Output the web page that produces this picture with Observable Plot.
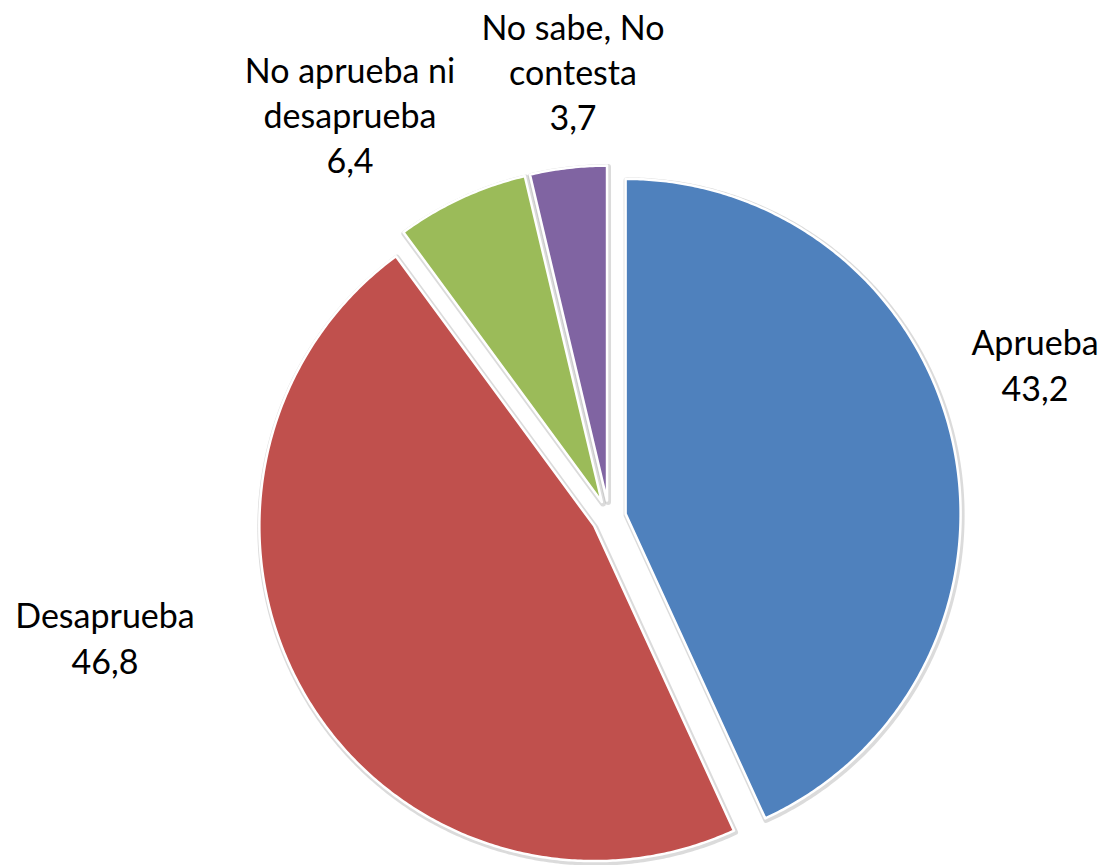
<!DOCTYPE html>
<html>
<head>
<meta charset="utf-8">
<script src="https://cdn.jsdelivr.net/npm/d3@7"></script>
<script src="https://cdn.jsdelivr.net/npm/@observablehq/plot@0.6"></script>
<style>
  html, body { margin: 0; padding: 0; background: #fff; }
  #chart svg { display: block; }
</style>
</head>
<body>
<div id="chart"></div>
<script>
// ---- data ----
const categories = ["Aprueba", "Desaprueba", "No aprueba ni desaprueba", "No sabe, No contesta"];
const values = [43.2, 46.8, 6.4, 3.7];
const labelNames = ["Aprueba", "Desaprueba", "No aprueba ni\ndesaprueba", "No sabe, No\ncontesta"];
const valueLabels = ["43,2", "46,8", "6,4", "3,7"];
const colors = ["#4F81BD", "#C0504D", "#9BBB59", "#8064A2"];

// ---- layout ----
const W = 1103, H = 865;
const center = [608.5, 517];
const radius = 335;
const explode = 17;
// label block centres relative to the pie centre (layout only)
const labelOffsets = [[426, -154], [-504, 119], [-259, -404], [-36, -447]];

const pie = d3.pie().sort(null).value(d => d.value)(
  categories.map((c, i) => ({cat: c, value: values[i], i}))
);

const rows = [];
for (const a of pie) {
  const mid = (a.startAngle + a.endAngle) / 2;
  const ox = center[0] + explode * Math.sin(mid);
  const oy = center[1] - explode * Math.cos(mid);
  rows.push({cat: a.data.cat, x: ox, y: oy});
  const n = Math.max(8, Math.ceil((a.endAngle - a.startAngle) / (Math.PI / 360)));
  for (let k = 0; k <= n; k++) {
    const t = a.startAngle + (a.endAngle - a.startAngle) * k / n;
    rows.push({cat: a.data.cat, x: ox + radius * Math.sin(t), y: oy - radius * Math.cos(t)});
  }
}

const labels = categories.map((c, i) => ({
  cat: c,
  text: labelNames[i] + "\n" + valueLabels[i],
  x: center[0] + labelOffsets[i][0],
  y: center[1] + labelOffsets[i][1]
}));

const chart = Plot.plot({
  width: W,
  height: H,
  margin: 0,
  x: {domain: [0, W], range: [0, W], axis: null},
  y: {domain: [0, H], range: [0, H], axis: null},
  color: {domain: categories, range: colors},
  style: {background: "#fff"},
  marks: [
    Plot.line(rows, {x: "x", y: "y", z: "cat", stroke: "#999", strokeOpacity: 0.35, strokeWidth: 6, dx: 1, dy: 1.5, curve: "linear-closed"}),
    Plot.line(rows, {x: "x", y: "y", z: "cat", fill: "cat", stroke: "#fff", strokeWidth: 2.5, curve: "linear-closed"}),
    Plot.text(labels, {x: "x", y: "y", text: "text", fontSize: 34, lineHeight: 1.33, fill: "#000",
      fontFamily: "Lato, 'Open Sans', sans-serif", textAnchor: "middle", lineAnchor: "middle"})
  ]
});
document.getElementById("chart").append(chart);
</script>
</body>
</html>
